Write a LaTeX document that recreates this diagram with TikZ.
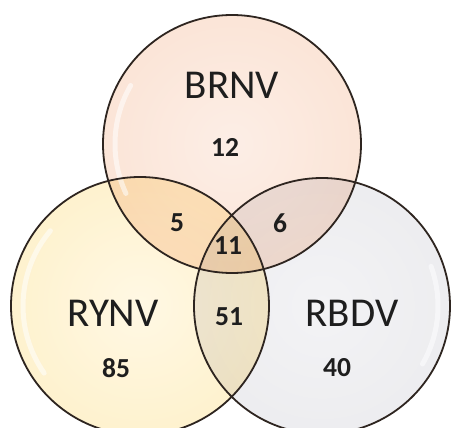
\documentclass[tikz,border=0pt]{standalone}
\usepackage{fontspec}
\setmainfont{Carlito}
\definecolor{brnvA}{HTML}{FCEEE6}
\definecolor{brnvB}{HTML}{FBE2D3}
\definecolor{brnvC}{HTML}{F7C3A2}
\definecolor{brnvD}{HTML}{E8854F}
\definecolor{rynvA}{HTML}{FFF8E4}
\definecolor{rynvB}{HTML}{FEF0C8}
\definecolor{rynvC}{HTML}{FAD870}
\definecolor{rynvD}{HTML}{E2A810}
\definecolor{rbdvA}{HTML}{F3F3F5}
\definecolor{rbdvB}{HTML}{EBEBEE}
\definecolor{rbdvC}{HTML}{D0D0D4}
\definecolor{rbdvD}{HTML}{909094}
\definecolor{edgecol}{HTML}{2E2520}
\definecolor{txtcol}{HTML}{1E1E1E}
\pgfdeclareradialshading{brnvglass}{\pgfpoint{0bp}{0bp}}{color(0bp)=(brnvA); color(32bp)=(brnvB); color(42bp)=(brnvC); color(50bp)=(brnvD); color(100bp)=(brnvD)}
\pgfdeclareradialshading{rynvglass}{\pgfpoint{0bp}{0bp}}{color(0bp)=(rynvA); color(32bp)=(rynvB); color(42bp)=(rynvC); color(50bp)=(rynvD); color(100bp)=(rynvD)}
\pgfdeclareradialshading{rbdvglass}{\pgfpoint{0bp}{0bp}}{color(0bp)=(rbdvA); color(32bp)=(rbdvB); color(42bp)=(rbdvC); color(50bp)=(rbdvD); color(100bp)=(rbdvD)}
\tikzset{
  setname/.style={font=\fontsize{41}{41}\selectfont, text=txtcol, inner sep=0pt},
  countlabel/.style={font=\fontsize{27.5}{27.5}\selectfont\bfseries, text=txtcol, inner sep=0pt},
  ring/.style={draw=edgecol, line width=1.8pt},
  gleam/.style={draw=white, line width=5pt, line cap=round, opacity=0.55}
}
\begin{document}
\begin{tikzpicture}[x=1pt,y=-1pt]
\fill[white] (0,0) rectangle (451,428);
\clip (0,0) rectangle (451,428);
\coordinate (cb) at (232,144);
\coordinate (cy) at (140,306);
\coordinate (cr) at (322,306);
\begin{scope}[blend mode=multiply]
\shade[shading=brnvglass] (cb) circle (129pt);
\shade[shading=rynvglass] (cy) circle (129pt);
\shade[shading=rbdvglass] (cr) circle (128pt);
\end{scope}
% glassy highlights
\draw[gleam] ([shift={(150:117pt)}]cb) arc[start angle=150, end angle=205, radius=117pt];
\draw[gleam] ([shift={(140:117pt)}]cy) arc[start angle=140, end angle=215, radius=117pt];
\draw[gleam] ([shift={(-30:116pt)}]cr) arc[start angle=-30, end angle=20, radius=116pt];
\draw[ring] (cb) circle (129pt);
\draw[ring] (cy) circle (129pt);
\draw[ring] (cr) circle (128pt);
\node[setname] (brnv) at (232,85) {BRNV};
\node[setname] (rynv) at (113,313) {RYNV};
\node[setname] (rbdv) at (352,313) {RBDV};
\node[countlabel] (n12) at (225,147) {12};
\node[countlabel] (n5) at (177,223) {5};
\node[countlabel] (n6) at (280,223) {6};
\node[countlabel] (n11) at (228,246) {11};
\node[countlabel] (n51) at (229,317) {51};
\node[countlabel] (n85) at (116,368) {85};
\node[countlabel] (n40) at (337,368) {40};
\end{tikzpicture}
\end{document}
